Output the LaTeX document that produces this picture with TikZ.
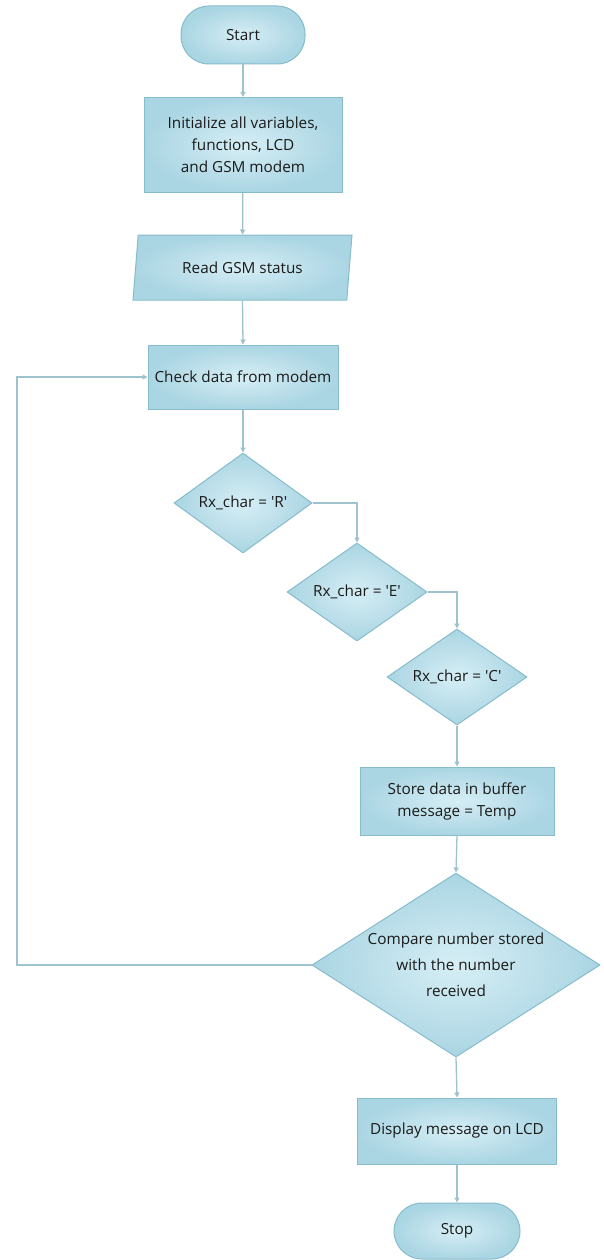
\documentclass[tikz,border=0pt]{standalone}
\usepackage{fontspec}
\setmainfont{Open Sans}
\usetikzlibrary{shapes.geometric,arrows.meta}
\definecolor{edgec}{HTML}{86BCCB}
\definecolor{linec}{HTML}{9FC3CE}
\definecolor{fillin}{HTML}{D6EEF5}
\definecolor{fillout}{HTML}{AAD5E3}
\definecolor{txtc}{HTML}{1A1A1A}
\tikzset{
  shapebase/.style={draw=edgec, line width=1pt, inner color=fillin, outer color=fillout,
    text=txtc, font=\fontsize{15.3}{22}\selectfont, align=center, inner sep=0pt},
  procbox/.style={shapebase, rectangle},
  termbox/.style={shapebase, rectangle, rounded corners=28pt},
  iobox/.style={shapebase, trapezium, trapezium left angle=66, trapezium right angle=114,
    trapezium stretches body=true},
  decbox/.style={shapebase, diamond, aspect=1.4},
  txtlabel/.style={text=txtc, font=\fontsize{15.3}{26}\selectfont, align=center, inner sep=0pt},
  flow/.style={draw=linec, line width=1.3pt, -{Triangle[length=5pt,width=5pt]}},
}
\begin{document}
\begin{tikzpicture}[x=1pt,y=-1pt]
\fill[white] (0,0) rectangle (603,1260);
\useasboundingbox (0,0) rectangle (603,1260);

\node[termbox, minimum width=124pt, minimum height=58pt] (start) at (243,35) {Start};
\node[procbox, minimum width=198pt, minimum height=95pt] (init) at (243,145)
  {Initialize all variables,\\ functions, LCD\\ and GSM modem};
\node[iobox, minimum width=219pt, minimum height=65pt] (read) at (242.5,267.5) {Read GSM status};
\node[procbox, minimum width=190pt, minimum height=64pt] (check) at (243,377) {Check data from modem};
\node[decbox, minimum width=138pt, minimum height=100pt,
  label={[txtlabel]center:{Rx\_char = \textquotesingle R\textquotesingle}}] (dr) at (243,503) {};
\node[decbox, minimum width=140pt, minimum height=98pt,
  label={[txtlabel]center:{Rx\_char = \textquotesingle E\textquotesingle}}] (de) at (357,592) {};
\node[decbox, minimum width=140pt, minimum height=96pt,
  label={[txtlabel]center:{Rx\_char = \textquotesingle C\textquotesingle}}] (dc) at (457,677) {};
\node[procbox, minimum width=194pt, minimum height=68pt] (store) at (457,801)
  {Store data in buffer\\ message = Temp};
\node[decbox, minimum width=288pt, minimum height=184pt,
  label={[txtlabel]center:{Compare number stored\\ with the number\\ received}}] (cmp) at (456,965) {};
\node[procbox, minimum width=199pt, minimum height=66pt] (disp) at (457,1131) {Display message on LCD};
\node[termbox, minimum width=126pt, minimum height=56pt] (stop) at (457,1231) {Stop};

\coordinate (lp) at (17,965);

\draw[flow] (start) -- (init);
\draw[flow] (init) -- (read);
\draw[flow] (read.south) -- (check.north);
\draw[flow] (check) -- (dr);
\draw[flow] (dr.east) -| (de.north);
\draw[flow] (de.east) -| (dc.north);
\draw[flow] (dc.south) -- (store.north);
\draw[flow] (store.south) -- (cmp.north);
\draw[flow] (cmp.west) -- (lp) |- (check.west);
\draw[flow] (cmp.south) -- (disp.north);
\draw[flow] (disp) -- (stop);
\end{tikzpicture}
\end{document}
